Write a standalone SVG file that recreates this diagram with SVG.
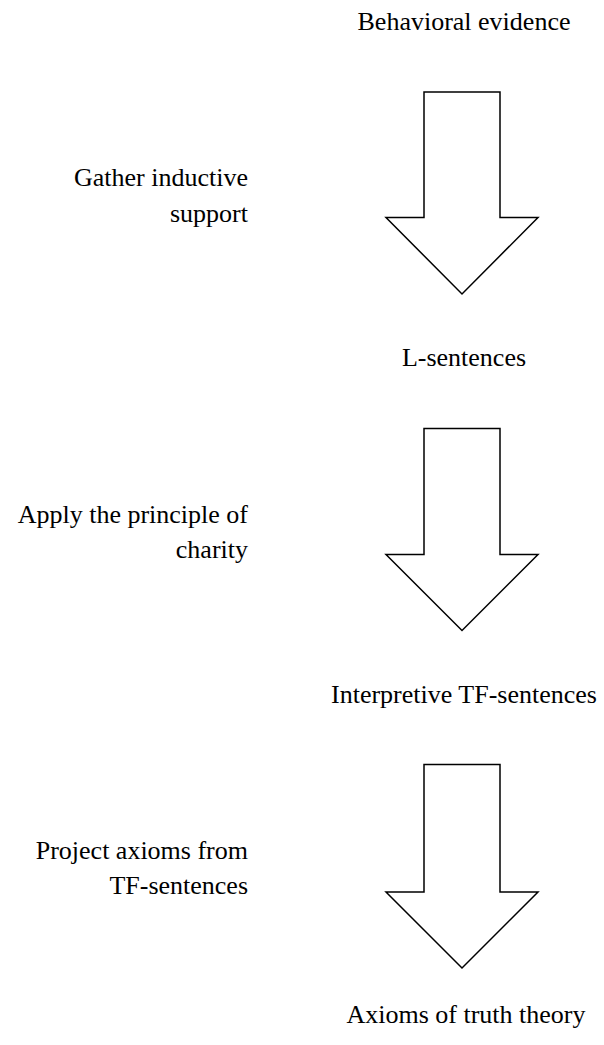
<svg xmlns="http://www.w3.org/2000/svg" width="604" height="1045" viewBox="0 0 604 1045">
<style>
text{font-family:'Liberation Serif','Times New Roman',serif;font-size:26px;fill:#000}
.c{text-anchor:middle}
.r{text-anchor:end}
.arrow{fill:#fff;stroke:#000;stroke-width:1.5;stroke-linejoin:miter}
</style>
<rect width="604" height="1045" fill="#fff"/>
<g id="node-behavioral"><text class="c" x="464" y="30">Behavioral evidence</text></g>
<g id="node-lsentences"><text class="c" x="464" y="366">L-sentences</text></g>
<g id="node-interpretive"><text class="c" x="464" y="703">Interpretive TF-sentences</text></g>
<g id="node-axioms"><text class="c" x="466" y="1023">Axioms of truth theory</text></g>
<g id="connectors">
<g id="arrow1">
<path class="arrow" d="M424,92 H500 V217.5 H538 L462,294 L386,217.5 H424 Z"/>
<text class="r" x="248" y="186">Gather inductive</text>
<text class="r" x="248" y="222">support</text>
</g>
<g id="arrow2">
<path class="arrow" d="M424,428.5 H500 V554.5 H538 L462,630.5 L386,554.5 H424 Z"/>
<text class="r" x="248" y="523">Apply the principle of</text>
<text class="r" x="248" y="558">charity</text>
</g>
<g id="arrow3">
<path class="arrow" d="M424,764.5 H500 V892 H538 L462,968 L386,892 H424 Z"/>
<text class="r" x="248" y="859">Project axioms from</text>
<text class="r" x="248" y="894">TF-sentences</text>
</g>
</g>
</svg>
